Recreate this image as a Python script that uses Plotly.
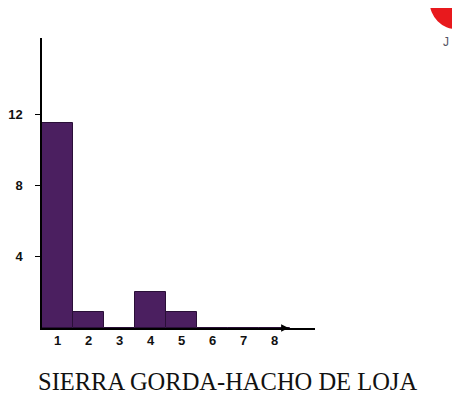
import plotly.graph_objects as go

categories = [1, 2, 3, 4, 5, 6, 7, 8]
values = [11.5, 0.9, 0, 2.0, 0.9, 0, 0, 0]
y_ticks = [4, 8, 12]
title_text = "SIERRA GORDA-HACHO DE LOJA"

fig = go.Figure()
fig.add_trace(go.Bar(
    x=categories, y=values, width=1.0,
    marker=dict(color="#4b1f60", line=dict(color="#2a0f38", width=1)),
))

fig.add_annotation(x=8.45, y=0, ax=8.2, ay=0, xref="x", yref="y", axref="x", ayref="y",
                   showarrow=True, arrowhead=2, arrowsize=1, arrowwidth=1.5, arrowcolor="black", text="")

fig.add_annotation(text=title_text, xref="paper", yref="paper", x=0.68, y=-0.186,
                   xanchor="center", yanchor="middle", showarrow=False,
                   font=dict(family="Liberation Serif", size=24.5, color="#111"))

fig.add_shape(type="circle", xref="paper", yref="paper", x0=1.42, x1=1.62, y0=1.03, y1=1.22,
              fillcolor="#e8191d", line=dict(width=0))
fig.add_annotation(text="J", xref="paper", yref="paper", x=1.48, y=0.985,
                   xanchor="center", yanchor="middle", showarrow=False,
                   font=dict(family="Liberation Sans", size=12, color="#556"))

fig.update_layout(
    width=460, height=415,
    margin=dict(l=34, r=153, t=30, b=95, autoexpand=False),
    plot_bgcolor="white", paper_bgcolor="white",
    showlegend=False, bargap=0,
)
fig.update_xaxes(range=[0.5, 9.3], tickmode="array", tickvals=categories,
                 ticktext=[str(c) for c in categories],
                 showline=True, linecolor="black", linewidth=1.5,
                 ticks="", showgrid=False, zeroline=False, automargin=False,
                 tickfont=dict(family="Liberation Sans", size=13, color="#111", weight="bold"))
fig.update_yaxes(range=[0, 16.3], tickmode="array", tickvals=y_ticks,
                 ticktext=["4", "8", "12"],
                 showline=True, linecolor="black", linewidth=1.5,
                 ticks="outside", ticklen=5, tickcolor="black",
                 ticklabelstandoff=10, automargin=False,
                 showgrid=False, zeroline=False,
                 tickfont=dict(family="Liberation Sans", size=13, color="#111", weight="bold"))

fig.write_html("out.html")
